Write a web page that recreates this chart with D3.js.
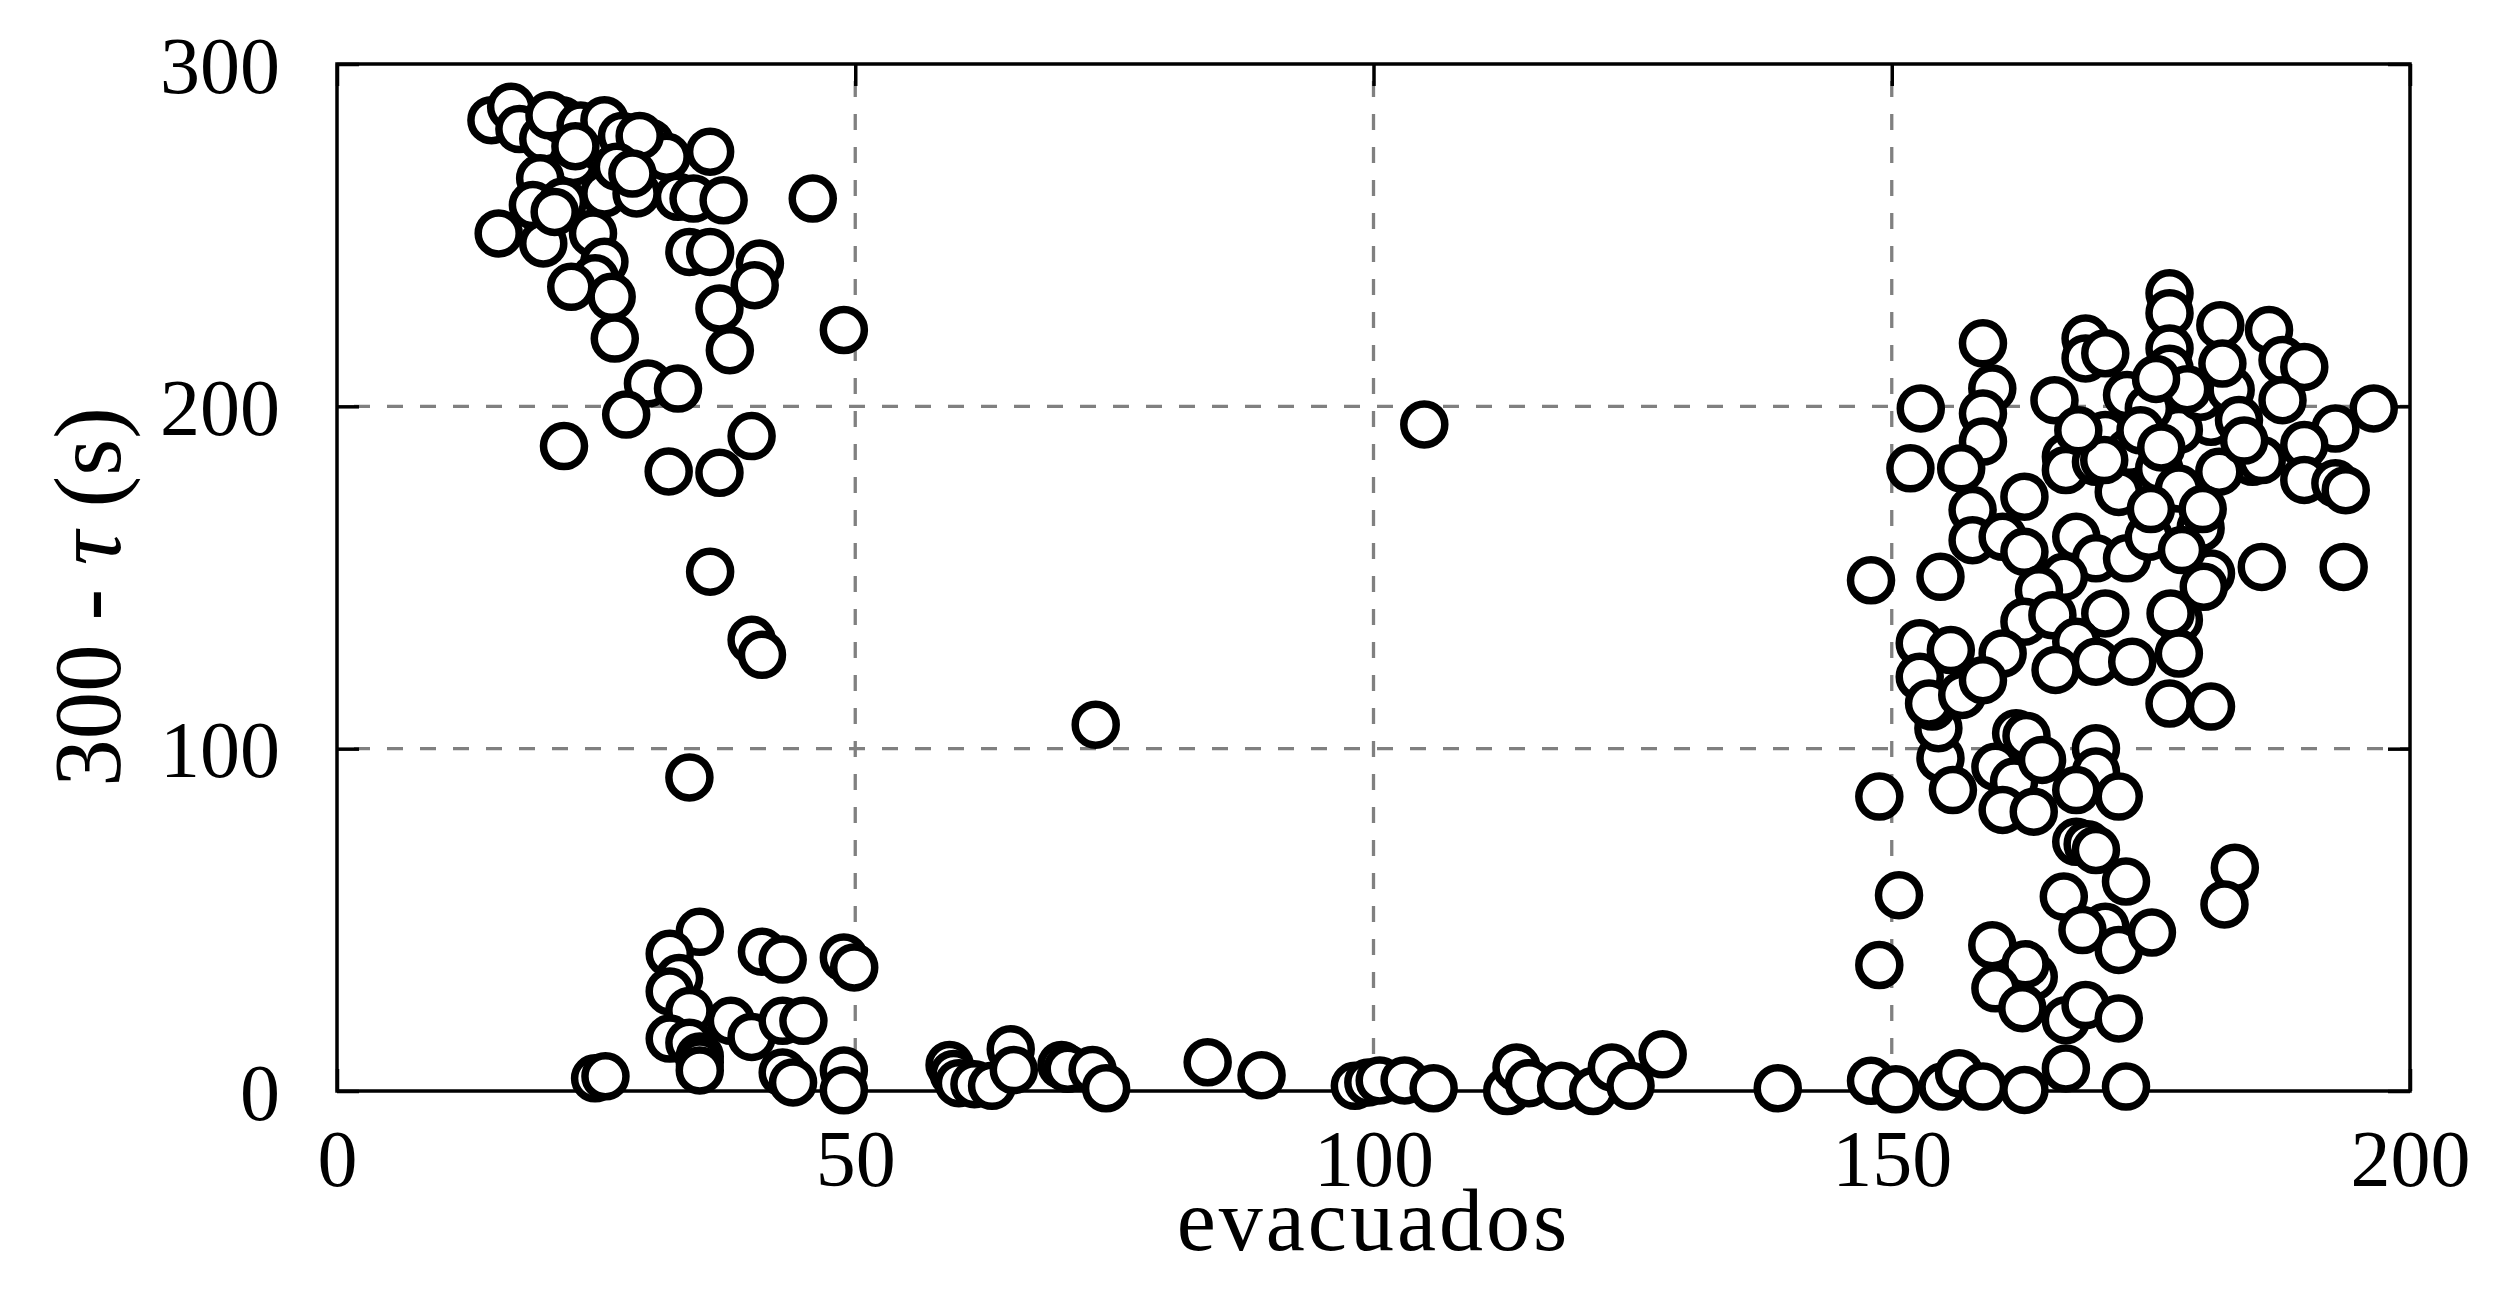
<!DOCTYPE html>
<html>
<head>
<meta charset="utf-8">
<script src="https://d3js.org/d3.v7.min.js"></script>
<style>
  body { margin: 0; background: #fff; }
  svg { display: block; }
</style>
</head>
<body>
<div id="chart"></div>
<script>
// evacuados (x) and 300 - tau (y)
var evacuados = [
  14.9,16.8,17.6,19.9,21.7,20.5,22.8,23.5,25.8,25.8,27.5,29.2,30.2,31.8,36.0,19.6,18.9,21.8,25.8,28.9,
  32.9,34.4,37.3,45.9,15.6,19.9,24.7,34.0,36.0,40.8,40.3,25.8,24.9,22.6,26.5,26.8,36.9,37.9,48.9,30.0,
  32.9,27.9,21.9,32.0,36.9,40.0,36.0,40.0,41.0,34.0,21.0,29.2,23.0,27.0,28.5,
  35.0,32.1,33.0,32.1,34.0,38.0,40.0,43.0,45.0,41.0,43.0,48.9,49.9,32.1,34.0,35.0,35.0,35.0,24.9,25.9,
  43.0,44.0,48.9,48.9,
  59.1,59.5,60.0,61.5,63.2,65.0,65.3,69.9,70.5,72.9,74.2,73.2,84.0,89.2,98.2,99.5,100.6,103.0,105.8,104.9,
  112.9,113.8,115.0,118.1,121.2,123.0,124.8,127.9,139.0,
  148.0,150.4,154.9,156.5,158.8,162.8,166.8,172.6,148.8,150.7,148.8,148.0,154.7,155.9,154.5,153.9,162.0,163.0,160.0,161.8,
  164.5,160.7,163.7,169.7,169.7,167.8,171.9,167.8,168.9,169.7,172.6,166.6,170.6,168.4,171.9,175.1,159.7,163.7,162.9,160.0,
  162.6,166.8,168.7,171.9,183.1,182.1,
  158.8,159.7,158.8,158.8,152.8,165.7,168.7,168.7,170.6,172.7,170.6,166.8,166.8,169.7,171.9,172.9,151.8,156.7,162.8,157.8,
  157.8,160.7,162.8,167.8,169.7,172.7,166.6,154.7,164.2,162.8,165.5,170.6,167.8,169.7,165.8,173.2,152.7,155.7,160.7,152.7,
  153.6,156.8,158.8,
  176.8,176.8,176.8,176.8,181.7,186.4,187.7,189.8,187.7,196.5,192.8,189.8,189.8,192.8,193.8,184.8,185.7,181.6,180.8,177.7,
  179.8,182.7,181.9,174.8,175.8,177.7,170.5,179.8,174.8,180.8,180.1,185.7,193.6,177.7,176.9,177.7,176.8,180.8,
  178.5,175.5,183.5,184.0,174.0,168.0,176.0,180.0,175.0,178.0
];
var restante = [
  283.6,287.5,281.0,278.2,283.6,285.0,271.4,282.0,274.8,283.6,279.0,272.9,277.0,272.9,274.4,266.6,258.8,259.8,262.2,262.2,
  261.2,260.7,260.2,260.7,250.5,247.6,250.5,245.1,245.1,241.7,235.4,242.2,237.4,234.9,232.0,219.8,228.6,216.4,222.3,206.7,
  205.2,197.6,188.4,181.0,180.6,191.3,151.7,131.8,127.4,91.6,256.8,279.0,276.0,270.0,268.0,
  46.5,40.1,33.0,29.1,23.4,20.5,15.8,20.5,20.5,40.7,38.4,39.0,36.1,15.3,14.1,10.1,8.3,6.0,3.7,4.3,
  5.4,2.5,6.0,0.2,
  7.6,5.0,2.3,2.0,1.5,12.2,6.1,7.6,6.5,6.1,0.8,107.0,8.4,4.6,1.5,2.5,3.1,3.1,0.8,194.7,
  0.0,6.9,2.3,1.5,0.0,6.9,1.5,10.7,0.8,
  3.0,0.5,1.3,5.2,1.3,0.3,6.6,1.3,86.0,57.2,36.8,149.2,97.2,87.9,106.0,112.3,104.5,103.7,94.7,90.4,
  96.7,82.1,81.6,100.1,93.3,87.9,86.0,72.8,72.1,70.4,61.2,56.8,48.0,47.0,41.2,46.3,42.6,33.4,37.0,30.0,
  24.2,20.7,25.1,21.2,65.2,54.5,
  218.4,205.2,197.9,189.7,199.4,201.8,219.8,214.0,215.5,203.3,191.6,185.3,181.4,183.8,175.0,186.7,181.9,181.9,173.6,169.7,
  160.9,161.9,157.5,161.9,155.6,155.6,150.2,150.2,146.3,137.1,139.0,139.5,131.2,125.4,123.0,125.4,130.8,128.8,127.8,121.0,
  113.2,115.7,120.0,
  233.0,227.2,216.9,211.0,223.7,222.3,213.5,211.5,201.8,199.4,193.5,188.7,178.5,177.5,175.5,183.8,184.3,180.9,195.5,193.1,
  202.8,204.8,212.5,199.4,181.8,176.0,184.3,164.4,161.9,151.2,147.3,153.1,153.1,137.6,139.5,127.8,113.2,112.3,
  205.0,208.0,196.0,190.0,193.0,193.0,188.0,170.0,170.0,158.0
];

var xTicks = [0, 50, 100, 150, 200];
var yTicks = [0, 100, 200, 300];
var xLabel = 'evacuados';

var width = 2502, height = 1303;
var margin = {top: 64, right: 92, bottom: 212, left: 337};
var w = width - margin.left - margin.right;
var h = height - margin.top - margin.bottom;
var font = '"Liberation Serif", "Times New Roman", serif';

var points = evacuados.map(function(d, i){ return {x: d, y: restante[i]}; });

var x = d3.scaleLinear().domain([0, 200]).range([0, w]);
var y = d3.scaleLinear().domain([0, 300]).range([h, 0]);

var svg = d3.select('#chart').append('svg')
    .attr('width', width)
    .attr('height', height);

var g = svg.append('g')
    .attr('transform', 'translate(' + margin.left + ',' + margin.top + ')');

// grid
g.selectAll('line.gx')
    .data(xTicks.slice(1, -1))
    .enter()
    .append('line')
    .attr('class', 'gx')
    .attr('x1', function(d){ return x(d); })
    .attr('x2', function(d){ return x(d); })
    .attr('y1', 0)
    .attr('y2', h)
    .attr('stroke', '#808080')
    .attr('stroke-width', 3.3)
    .attr('stroke-dasharray', '16,17')
    .attr('stroke-dashoffset', 16);

g.selectAll('line.gy')
    .data(yTicks.slice(1, -1))
    .enter()
    .append('line')
    .attr('class', 'gy')
    .attr('x1', 0)
    .attr('x2', w)
    .attr('y1', function(d){ return y(d); })
    .attr('y2', function(d){ return y(d); })
    .attr('stroke', '#808080')
    .attr('stroke-width', 3.3)
    .attr('stroke-dasharray', '16,17')
    .attr('stroke-dashoffset', 16);

// axes, ticks pointing in, on all four sides
var tickLen = 22;
var axes = [
    {axis: d3.axisBottom(x).tickValues(xTicks), t: 'translate(0,' + h + ')', labels: true, dir: 'x'},
    {axis: d3.axisTop(x).tickValues(xTicks), t: 'translate(0,0)', labels: false, dir: 'x'},
    {axis: d3.axisLeft(y).tickValues(yTicks), t: 'translate(0,0)', labels: true, dir: 'y'},
    {axis: d3.axisRight(y).tickValues(yTicks), t: 'translate(' + w + ',0)', labels: false, dir: 'y'}
];

axes.forEach(function(a){
    var ax = g.append('g')
        .attr('transform', a.t)
        .call(a.axis.tickSizeInner(-tickLen).tickSizeOuter(0).tickPadding(0).tickFormat(d3.format('d')));
    ax.select('.domain').remove();
    ax.selectAll('.tick line')
        .attr('stroke', '#000')
        .attr('stroke-width', 3.5);
    if (!a.labels) {
        ax.selectAll('.tick text').remove();
        return;
    }
    ax.selectAll('.tick text')
        .attr('font-family', font)
        .attr('font-size', 80)
        .attr('fill', '#000');
    if (a.dir == 'x') {
        ax.selectAll('.tick text').attr('y', 95).attr('dy', 0);
    } else {
        ax.selectAll('.tick text').attr('x', -57).attr('dy', '0.35em');
    }
});

// frame
g.append('rect')
    .attr('x', 0)
    .attr('y', 0)
    .attr('width', w)
    .attr('height', h)
    .attr('fill', 'none')
    .attr('stroke', '#000')
    .attr('stroke-width', 3.5);

// markers
g.selectAll('circle')
    .data(points)
    .enter()
    .append('circle')
    .attr('cx', function(d){ return x(d.x); })
    .attr('cy', function(d){ return y(d.y); })
    .attr('r', 20.5)
    .attr('fill', '#fff')
    .attr('stroke', '#000')
    .attr('stroke-width', 7.5);

// axis labels
svg.append('text')
    .attr('x', margin.left + w / 2)
    .attr('y', 1250)
    .attr('text-anchor', 'middle')
    .attr('font-family', font)
    .attr('font-size', 88)
    .attr('letter-spacing', 3)
    .text(xLabel);

var yl = svg.append('text')
    .attr('transform', 'translate(120,597) rotate(-90)')
    .attr('text-anchor', 'middle')
    .attr('font-family', font)
    .attr('font-size', 95);
yl.append('tspan').text('300 - ');
yl.append('tspan').attr('font-style', 'italic').text('τ');
yl.append('tspan').text(' (s)');
</script>
</body>
</html>
